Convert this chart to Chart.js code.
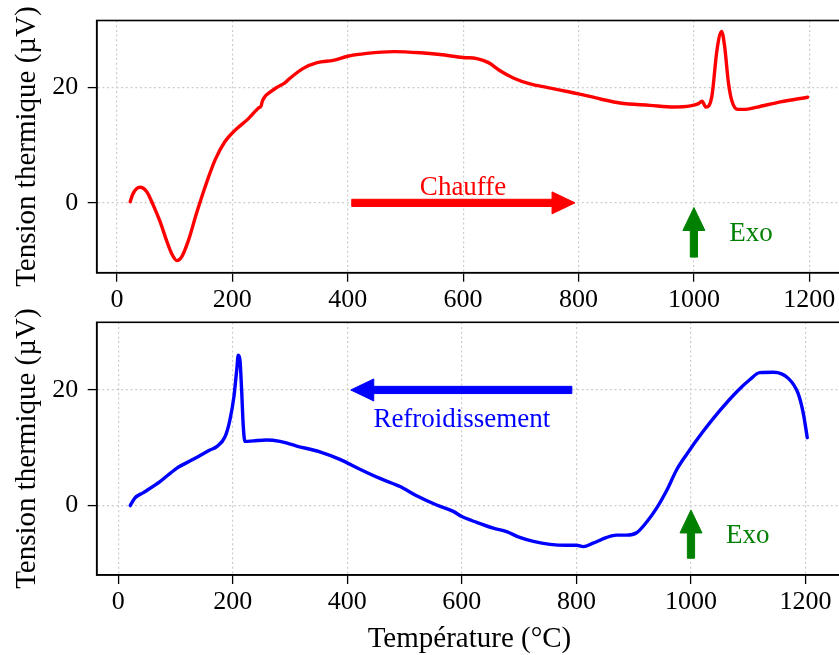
<!DOCTYPE html>
<html>
<head>
<meta charset="utf-8">
<script src="https://cdn.jsdelivr.net/npm/chart.js@4"></script>
<style>
  html, body { margin: 0; padding: 0; background: #fff; overflow: hidden; }
  #wrap { position: relative; width: 839px; height: 655px; overflow: hidden; background: #fff; }
  #wrap canvas { position: absolute; left: 0; }
  #chart-heat { top: 0; }
  #chart-cool { top: 290px; }
</style>
</head>
<body>
<div id="wrap">
  <canvas id="chart-heat" width="880" height="318"></canvas>
  <canvas id="chart-cool" width="880" height="367"></canvas>
</div>
<script>
  'use strict';

  /* ──────────────────────────────────
     Data (°C, µV)
     ────────────────────────────────── */
  var heatTemp = [23, 28, 40, 52, 63, 75, 86, 95, 104, 112, 124, 138, 153, 170, 187,
    205, 228, 245, 250, 252, 258, 263, 277, 291, 300, 323, 347, 375, 400, 433,
    480, 526, 560, 600, 624, 644, 664, 688, 716, 745, 780, 800, 838, 872, 924,
    965, 994, 1008, 1014, 1021, 1031, 1040, 1048, 1053, 1060, 1066, 1076, 1090, 1110, 1150, 1197];
  var heatVolt = [0.2, 1.6, 2.7, 1.9, -0.4, -3.3, -6.5, -8.8, -10.0, -9.4, -6.5, -1.8, 2.8, 7.4, 10.6,
    12.6, 14.6, 16.4, 16.8, 17.6, 18.6, 19.0, 20.0, 20.8, 21.6, 23.3, 24.3, 24.7, 25.4, 25.9,
    26.2, 26.0, 25.7, 25.2, 25.0, 24.3, 22.9, 21.6, 20.6, 20.0, 19.3, 18.9, 18.0, 17.3, 16.9,
    16.6, 16.8, 17.2, 17.6, 16.6, 18.4, 26.5, 29.7, 27.3, 20.7, 17.6, 16.2, 16.2, 16.6, 17.5, 18.3];

  var coolTemp = [21, 29, 44, 73, 102, 131, 160, 172, 186.5, 195, 202, 207, 209.7, 212.6, 215.5,
    218.4, 221.4, 236, 259, 282.5, 311.6, 352, 387, 422, 457, 492, 521, 556, 585, 600,
    626, 655, 678, 701, 725, 754, 783, 800, 812, 829, 853, 870, 888, 905, 923,
    940, 958, 975, 992, 1021, 1051, 1080, 1103, 1120, 1144, 1170, 1187, 1196, 1203];
  var coolVolt = [0.0, 1.3, 2.25, 4.15, 6.45, 8.0, 9.6, 10.2, 11.9, 14.8, 18.8, 23.5, 26.0, 25.2, 20.0,
    13.7, 11.1, 11.2, 11.35, 11.1, 10.3, 9.3, 8.0, 6.3, 4.7, 3.3, 1.7, 0.1, -1.0, -1.9,
    -2.9, -3.9, -4.5, -5.5, -6.2, -6.7, -6.85, -6.85, -7.1, -6.5, -5.5, -5.1, -5.1, -4.7, -2.8,
    -0.45, 2.7, 6.2, 8.8, 12.8, 16.5, 19.7, 21.8, 23.0, 23.05, 22.0, 19.4, 16.0, 11.75];

  var xTicks = [0, 200, 400, 600, 800, 1000, 1200];
  var yTicks = [0, 20];

  /* ──────────────────────────────────
     Look & layout
     ────────────────────────────────── */
  var SERIF = '"Liberation Serif", "Times New Roman", serif';
  var TICK_FONT = { family: SERIF, size: 26 };
  var TITLE_FONT = { family: SERIF, size: 29, lineHeight: 1.2 };
  var NOTE_SIZE = 27;
  var Y_AXIS_WIDTH = 96.7;
  var GRID_COLOR = '#cccccc';

  function toPoints(xs, ys) {
    return xs.map(function (x, i) { return { x: x, y: ys[i] }; });
  }

  // Arrow with a straight shaft and a triangular head, in pixels
  function drawArrow(ctx, x1, y1, x2, y2, color) {
    var dx = x2 - x1, dy = y2 - y1;
    var len = Math.sqrt(dx * dx + dy * dy);
    var ux = dx / len, uy = dy / len;
    var nx = -uy, ny = ux;
    var sw = 3.6, hw = 11, hl = 23;
    var bx = x2 - ux * hl, by = y2 - uy * hl;

    ctx.save();
    ctx.fillStyle = color;
    ctx.strokeStyle = color;
    ctx.lineWidth = 1;
    ctx.lineJoin = 'round';
    ctx.beginPath();
    ctx.moveTo(x1 + nx * sw, y1 + ny * sw);
    ctx.lineTo(bx + nx * sw, by + ny * sw);
    ctx.lineTo(bx + nx * hw, by + ny * hw);
    ctx.lineTo(x2, y2);
    ctx.lineTo(bx - nx * hw, by - ny * hw);
    ctx.lineTo(bx - nx * sw, by - ny * sw);
    ctx.lineTo(x1 - nx * sw, y1 - ny * sw);
    ctx.closePath();
    ctx.fill();
    ctx.stroke();
    ctx.restore();
  }

  /* ──────────────────────────────────
     Plugin: box frame + arrows + labels
     ────────────────────────────────── */
  var decorPlugin = {
    id: 'dtaDecor',
    afterDraw: function (chart, args, opts) {
      var ctx = chart.ctx;
      var area = chart.chartArea;
      var xs = chart.scales.x;
      var ys = chart.scales.y;

      (opts.arrows || []).forEach(function (a) {
        drawArrow(ctx,
          xs.getPixelForValue(a.from[0]), ys.getPixelForValue(a.from[1]),
          xs.getPixelForValue(a.to[0]), ys.getPixelForValue(a.to[1]),
          a.color);
      });

      ctx.save();
      ctx.font = NOTE_SIZE + 'px ' + SERIF;
      ctx.textAlign = 'center';
      ctx.textBaseline = 'alphabetic';
      (opts.labels || []).forEach(function (l) {
        ctx.fillStyle = l.color;
        ctx.fillText(l.text, xs.getPixelForValue(l.x), ys.getPixelForValue(l.y));
      });
      ctx.restore();

      // top and right spines
      ctx.save();
      ctx.strokeStyle = '#000';
      ctx.lineWidth = 1.6;
      ctx.strokeRect(area.left, area.top, area.right - area.left, area.bottom - area.top);
      ctx.restore();
    },
  };

  function buildOptions(cfg) {
    return {
      responsive: false,
      animation: false,
      layout: { padding: { top: cfg.padTop, right: cfg.padRight, left: 0, bottom: 0 } },
      plugins: {
        legend: { display: false },
        tooltip: { enabled: false },
        dtaDecor: { arrows: cfg.arrows, labels: cfg.labels },
      },
      scales: {
        x: {
          type: 'linear',
          min: cfg.xMin,
          max: cfg.xMax,
          afterBuildTicks: function (scale) {
            scale.ticks = xTicks.map(function (v) { return { value: v }; });
          },
          afterFit: function (scale) {
            scale.height = cfg.xHeight;
            scale.paddingLeft = 0;
            scale.paddingRight = 0;
          },
          ticks: {
            font: TICK_FONT,
            color: '#000',
            padding: 3,
            maxRotation: 0,
            autoSkip: false,
            callback: function (v) { return String(v); },
          },
          grid: {
            color: GRID_COLOR,
            lineWidth: 1.2,
            tickLength: 9,
            tickColor: '#000',
            tickWidth: 1.3,
            tickBorderDash: [],
          },
          border: { color: '#000', width: 1.6, dash: [2, 2.7] },
          title: {
            display: cfg.xTitle,
            text: 'Température (°C)',
            color: '#000',
            font: TITLE_FONT,
            padding: { top: 0, bottom: 0 },
          },
        },
        y: {
          type: 'linear',
          min: cfg.yMin,
          max: cfg.yMax,
          afterBuildTicks: function (scale) {
            scale.ticks = yTicks.map(function (v) { return { value: v }; });
          },
          afterFit: function (scale) {
            scale.width = Y_AXIS_WIDTH;
            scale.paddingTop = 0;
            scale.paddingBottom = 0;
          },
          ticks: {
            font: TICK_FONT,
            color: '#000',
            padding: 9.5,
            callback: function (v) { return String(v); },
          },
          grid: {
            color: GRID_COLOR,
            lineWidth: 1.2,
            tickLength: 9,
            tickColor: '#000',
            tickWidth: 1.3,
            tickBorderDash: [],
          },
          border: { color: '#000', width: 1.6, dash: [2, 2.7] },
          title: {
            display: true,
            text: 'Tension thermique (µV)',
            color: '#000',
            font: TITLE_FONT,
            padding: { top: 10.1, bottom: 0 },
          },
        },
      },
    };
  }

  function lineDataset(xs, ys, color) {
    return {
      data: toPoints(xs, ys),
      borderColor: color,
      backgroundColor: color,
      borderWidth: 3.4,
      pointRadius: 0,
      cubicInterpolationMode: 'monotone',
      borderCapStyle: 'round',
      borderJoinStyle: 'round',
      fill: false,
    };
  }

  /* ──────────────────────────────────
     Heating (top)
     ────────────────────────────────── */
  new Chart(document.getElementById('chart-heat').getContext('2d'), {
    type: 'line',
    data: { datasets: [lineDataset(heatTemp, heatVolt, '#ff0000')] },
    options: buildOptions({
      xMin: -35, xMax: 1257, yMin: -12.1, yMax: 31.6,
      padTop: 20.5, padRight: 880 - 842.2, xHeight: 318 - 272.7, xTitle: false,
      arrows: [
        { from: [407, 0], to: [794, 0], color: '#ff0000' },
        { from: [1000, -9.4], to: [1000, -0.8], color: '#008000' },
      ],
      labels: [
        { text: 'Chauffe', x: 600, y: 1.33, color: '#ff0000' },
        { text: 'Exo', x: 1099, y: -6.6, color: '#008000' },
      ],
    }),
    plugins: [decorPlugin],
  });

  /* ──────────────────────────────────
     Cooling (bottom)
     ────────────────────────────────── */
  new Chart(document.getElementById('chart-cool').getContext('2d'), {
    type: 'line',
    data: { datasets: [lineDataset(coolTemp, coolVolt, '#0000ff')] },
    options: buildOptions({
      xMin: -37.5, xMax: 1264, yMin: -12.0, yMax: 31.7,
      padTop: 322.3 - 290, padRight: 880 - 842.2, xHeight: 367 - (575 - 290), xTitle: true,
      arrows: [
        { from: [792, 20], to: [406, 20], color: '#0000ff' },
        { from: [1000, -9.1], to: [1000, -0.75], color: '#008000' },
      ],
      labels: [
        { text: 'Refroidissement', x: 600, y: 13.55, color: '#0000ff' },
        { text: 'Exo', x: 1099, y: -6.5, color: '#008000' },
      ],
    }),
    plugins: [decorPlugin],
  });
</script>
</body>
</html>
